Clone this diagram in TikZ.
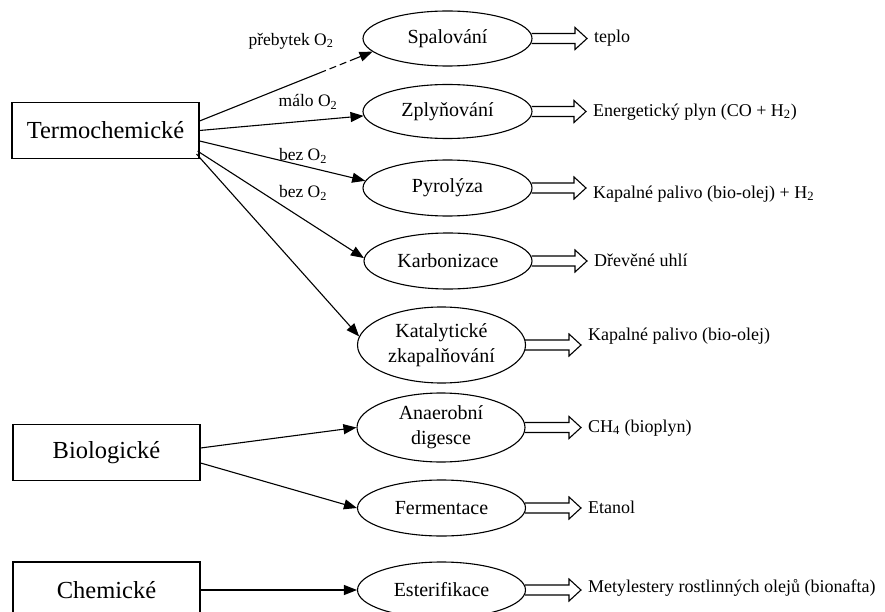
\documentclass[tikz,border=0pt]{standalone}
\usepackage{fontspec}
\setmainfont{Liberation Serif}
\usetikzlibrary{shapes.geometric,arrows.meta,calc}
\tikzset{
 catbox/.style={draw, line width=1.2pt, minimum width=187pt, minimum height=56pt, inner sep=0pt, font=\fontsize{24.5}{29}\selectfont},
 proc/.style={draw, ellipse, line width=1.1pt, inner sep=0pt, align=center, font=\fontsize{20}{25}\selectfont},
 outtxt/.style={anchor=west, inner sep=0pt, font=\fontsize{18}{22}\selectfont},
 lbl/.style={inner sep=0pt, font=\fontsize{17.5}{21}\selectfont},
 conn/.style={line width=1.1pt, -{Triangle[length=13pt,width=10pt]}},
 outarrow/.style={line width=1.1pt, line join=miter},
}
\newcommand\hollowarr[2]{%
 \draw[outarrow] let \p1=(#1.east), \p2=(#2.west) in
 (\x1-1pt,\y1+5pt) -- (\x2-19pt,\y1+5pt) -- (\x2-19pt,\y1+11pt) -- (\x2-7pt,\y1)
 -- (\x2-19pt,\y1-11pt) -- (\x2-19pt,\y1-5pt) -- (\x1-1pt,\y1-5pt);}
\begin{document}
\begin{tikzpicture}[x=1pt,y=-1pt]
\useasboundingbox (0,0) rectangle (885,612);
\clip (0,0) rectangle (885,612);
% category boxes
\node[catbox] (T) at (105.5,130.5) {Termochemické};
\node[catbox] (B) at (106.5,452.5) {Biologické};
\node[catbox] (C) at (106.5,590) {Chemické};
% process ellipses
\node[proc, minimum width=169pt, minimum height=55pt] (S) at (447.5,38.5) {Spalování};
\node[proc, minimum width=169pt, minimum height=54pt] (Z) at (447.5,111.5) {Zplyňování};
\node[proc, minimum width=169pt, minimum height=56pt] (P) at (447.5,188) {Pyrolýza};
\node[proc, minimum width=168pt, minimum height=56pt] (K) at (448,261) {Karbonizace};
\node[proc, minimum width=168pt, minimum height=76pt] (KZ) at (441.5,345) {Katalytické\\zkapalňování};
\node[proc, minimum width=168pt, minimum height=69pt] (A) at (441,427.5) {Anaerobní\\digesce};
\node[proc, minimum width=168pt, minimum height=56pt] (F) at (441.5,508) {Fermentace};
\node[proc, minimum width=168pt, minimum height=56pt] (E) at (441.5,590) {Esterifikace};
% outputs
\node[outtxt] (oS) at (594,38) {teplo};
\node[outtxt] (oZ) at (593,112) {Energetický plyn (CO + H\textsubscript{2})};
\node[outtxt] (oP) at (593,194) {Kapalné palivo (bio-olej) + H\textsubscript{2}};
\node[outtxt] (oK) at (594,260) {Dřevěné uhlí};
\node[outtxt] (oKZ) at (588,336) {Kapalné palivo (bio-olej)};
\node[outtxt] (oA) at (588,428) {CH\textsubscript{4} (bioplyn)};
\node[outtxt] (oF) at (588,507) {Etanol};
\node[outtxt] (oE) at (588,588) {Metylestery rostlinných olejů (bionafta)};
% labels
\node[lbl] (l1) at (291,41) {přebytek O\textsubscript{2}};
\node[lbl] (l2) at (308,102) {málo O\textsubscript{2}};
\node[lbl] (l3) at (303,156) {bez O\textsubscript{2}};
\node[lbl] (l4) at (303,193) {bez O\textsubscript{2}};
% connectors
\draw[conn, dash pattern={on 136pt off 4pt on 7pt off 4pt on 7pt off 4pt on 60pt}] ($(T.east)+(0,-9.5)$) -- (S.190);
\draw[conn] (T.east) -- (Z.183);
\draw[conn] ($(T.east)+(0,10.5)$) -- (P.175);
\draw[conn] ($(T.south east)+(-2,-8)$) -- (K.178);
\draw[conn] ($(T.south east)+(-3,-5)$) -- (KZ.174);
\draw[conn] ($(B.east)+(0,-4.5)$) -- (A.180);
\draw[conn] ($(B.east)+(0,10.5)$) -- (F.180);
\draw[conn] (C.east) -- (E.west);
% hollow output arrows
\hollowarr{S}{oS}
\hollowarr{Z}{oZ}
\hollowarr{P}{oP}
\hollowarr{K}{oK}
\hollowarr{KZ}{oKZ}
\hollowarr{A}{oA}
\hollowarr{F}{oF}
\hollowarr{E}{oE}
\end{tikzpicture}
\end{document}
